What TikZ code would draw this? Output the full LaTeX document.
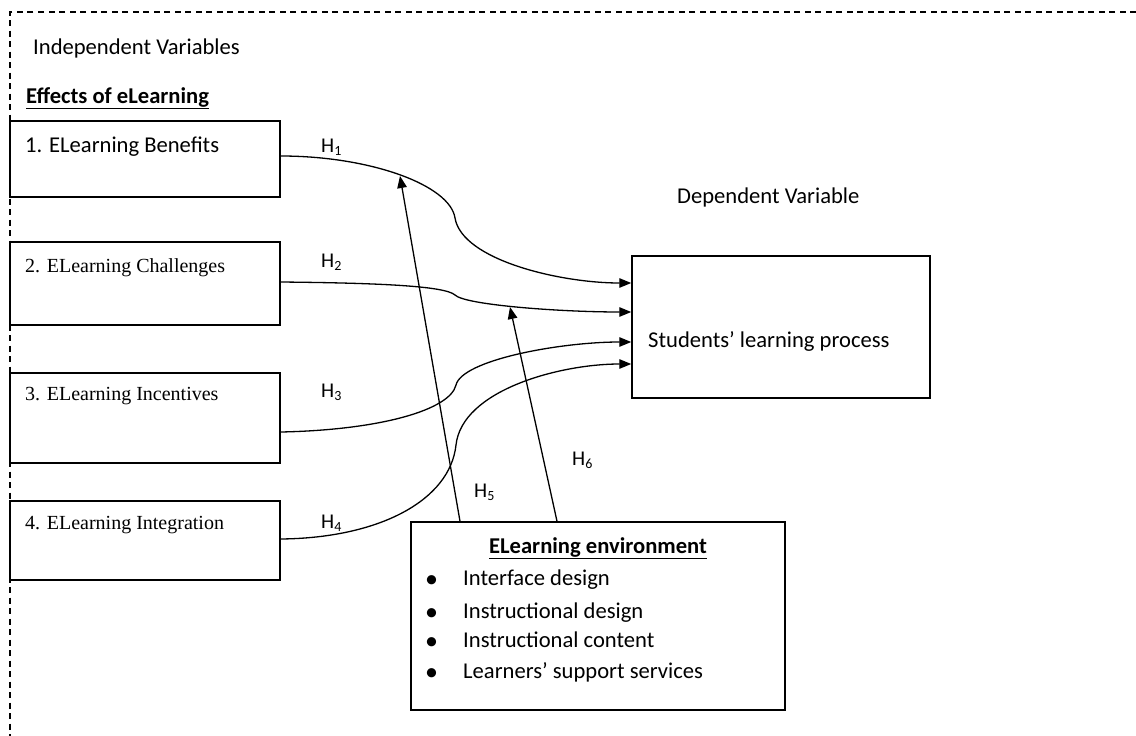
\documentclass[tikz,border=0pt]{standalone}
\usepackage{fontspec}
\setmainfont{Carlito}
\newfontfamily\serifbox{Liberation Serif}
\usetikzlibrary{arrows.meta,calc}
\newcommand{\Hlab}[1]{H\raisebox{-0.3ex}{\fontsize{14}{14}\selectfont #1}}
\tikzset{
  box/.style={draw, line width=1.5pt, rectangle, inner sep=0pt},
  conn/.style={line width=1.3pt, -{Triangle[length=12pt,width=9.5pt]}},
  lbl/.style={inner sep=0pt, anchor=base west, font=\fontsize{22.6}{26}\selectfont},
  slbl/.style={inner sep=0pt, anchor=base west, font=\serifbox\fontsize{20}{24}\selectfont},
  hlbl/.style={inner sep=0pt, anchor=base west, font=\fontsize{21}{24}\selectfont},
  bul/.style={inner sep=0pt, anchor=base west, font=\fontsize{26}{26}\selectfont},
  frame/.style={line width=1.1pt, dash pattern=on 6pt off 4.5pt}
}
\begin{document}
\begin{tikzpicture}[x=1pt,y=-1pt]
\useasboundingbox (0,0) rectangle (1136,736);
% dashed frame
\draw[frame] (1136,12) -- (10,12) -- (10,736);
% texts
\node[lbl] (indep) at (33,54) {Independent Variables};
\node[lbl, font=\bfseries\fontsize{22.6}{26}\selectfont] (effects) at (26,103) {\underline{Effects of eLearning}};
% left boxes
\node[box, fill=white, minimum width=270pt, minimum height=76pt] (b1) at (145,159) {};
\node[box, fill=white, minimum width=270pt, minimum height=83pt] (b2) at (145,283.5) {};
\node[box, fill=white, minimum width=270pt, minimum height=90pt] (b3) at (145,418) {};
\node[box, fill=white, minimum width=270pt, minimum height=79pt] (b4) at (145,540.5) {};
\node[lbl] (t1) at (25,152) {1. ELearning Benefits};
\node[slbl] (t2) at (25,272) {2. ELearning Challenges};
\node[slbl] (t3) at (25,400) {3. ELearning Incentives};
\node[slbl] (t4) at (25,529) {4. ELearning Integration};
% dependent
\node[lbl] (dep) at (677,203) {Dependent Variable};
\node[box, minimum width=298pt, minimum height=142pt] (stu) at (781,327) {};
\node[lbl] (stut) at (648,347) {Students’ learning process};
% environment box
\node[box, minimum width=374pt, minimum height=188pt] (env) at (598,616) {};
\node[inner sep=0pt, anchor=base, font=\bfseries\fontsize{22.6}{26}\selectfont] (envt) at (598,553) {\underline{ELearning environment}};
\node[bul] (bu1) at (425,587) {•};
\node[bul] (bu2) at (425,620) {•};
\node[bul] (bu3) at (425,649) {•};
\node[bul] (bu4) at (425,680) {•};
\node[lbl] (e1) at (463,585) {Interface design};
\node[lbl] (e2) at (463,618) {Instructional design};
\node[lbl] (e3) at (463,647) {Instructional content};
\node[lbl] (e4) at (463,678) {Learners’ support services};
% H labels
\node[hlbl] (h1) at (321,152) {\Hlab{1}};
\node[hlbl] (h2) at (321,267) {\Hlab{2}};
\node[hlbl] (h3) at (321,397) {\Hlab{3}};
\node[hlbl] (h4) at (321,528) {\Hlab{4}};
\node[hlbl] (h5) at (474,497) {\Hlab{5}};
\node[hlbl] (h6) at (572,465) {\Hlab{6}};
% curved connectors
\draw[conn] ([yshift=3pt]b1.east) .. controls (370,156) and (450,185) .. (455,218)
  .. controls (462,260) and (560,283) .. ([yshift=44pt]stu.west);
\draw[conn] ([yshift=1.5pt]b2.east) .. controls (380,283) and (445,286) .. (455,295)
  .. controls (465,305) and (560,312) .. ([yshift=15pt]stu.west);
\draw[conn] ([yshift=-14pt]b3.east) .. controls (380,430) and (450,410) .. (456,385)
  .. controls (462,360) and (560,342) .. ([yshift=-15pt]stu.west);
\draw[conn] ([yshift=1.5pt]b4.east) .. controls (380,538) and (450,500) .. (456,445)
  .. controls (462,390) and (560,364) .. ([yshift=-37pt]stu.west);
% moderating arrows
\coordinate (m1) at (400,176);
\coordinate (m2) at (510,307);
\draw[conn] ([xshift=-138pt]env.north) -- (m1);
\draw[conn] ([xshift=-41pt]env.north) -- (m2);
\end{tikzpicture}
\end{document}
